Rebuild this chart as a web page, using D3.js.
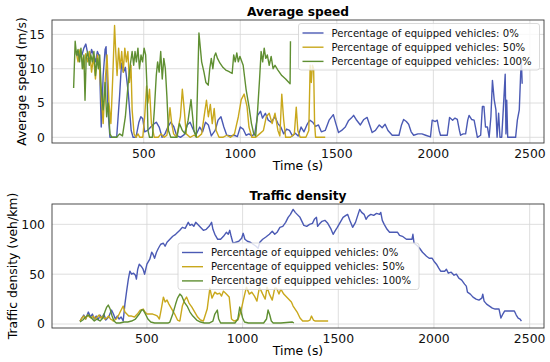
<!DOCTYPE html>
<html>
<head>
<meta charset="utf-8">
<script src="https://cdn.jsdelivr.net/npm/d3@7/dist/d3.min.js"></script>
<style>
  body { margin: 0; background: #fff; }
  svg { display: block; font-family: "DejaVu Sans", sans-serif; }
  .grid line { stroke: #d6d6d6; stroke-width: 0.8; }
  .tick-label { font-size: 12.4px; fill: #111; }
  .series { fill: none; stroke-width: 1.4; stroke-linejoin: round; }
</style>
</head>
<body>
<div id="chart"></div>
<script>
/* Two stacked panels: average speed and traffic density over time */

const seriesNames = [
  'Percentage of equipped vehicles: 0%',
  'Percentage of equipped vehicles: 50%',
  'Percentage of equipped vehicles: 100%'
];
const seriesColors = ['#4b5ab4', '#c9a81c', '#5f8f32'];

const timeTicks = [500, 1000, 1500, 2000, 2500];
const speedTicks = [0, 5, 10, 15];
const densityTicks = [0, 50, 100];

// average speed (m/s), [time, value]
const speed0 = [[150,12.5],[160,11.8],[170,12.6],[180,12.0],[190,13.0],[200,13.6],[210,12.2],[220,11.5],[230,12.8],[240,12.0],[250,11.0],[260,12.5],[270,11.8],[280,1.5],[290,9.0],[300,12.8],[305,13.2],[315,4.0],[325,0],[345,0],[360,0],[375,6.0],[385,10.8],[395,9.5],[405,10.2],[420,6.5],[435,1.0],[445,0],[460,0],[475,2.2],[485,3.0],[495,2.7],[505,0.8],[520,1.0],[540,1.6],[555,2.0],[565,2.2],[580,1.5],[595,0],[610,0.5],[625,1.5],[640,2.2],[655,1.6],[670,0.3],[690,0],[710,0.4],[725,1.8],[740,2.2],[755,1.2],[770,0.3],[790,1.5],[805,0.8],[820,2.2],[835,1.8],[850,0.2],[870,1.0],[885,2.5],[900,3.0],[915,1.5],[930,0.3],[950,0.2],[970,0.3],[985,0.1],[1000,1.5],[1015,1.2],[1030,0.3],[1045,0.5],[1060,0.2],[1075,0.5],[1090,3.2],[1105,3.8],[1115,2.8],[1130,3.5],[1145,2.5],[1160,2.2],[1180,3.0],[1195,2.0],[1210,1.5],[1225,0.5],[1240,1.2],[1255,1.0],[1270,0.2],[1285,0.6],[1300,0.2],[1315,1.5],[1330,0.8],[1345,1.8],[1360,2.5],[1375,2.2],[1390,1.6],[1405,1.8],[1420,0.8],[1440,1.0],[1460,2.5],[1482,3.3],[1495,2.0],[1509,0.7],[1525,1.0],[1544,1.5],[1560,2.4],[1575,2.8],[1587,3.2],[1600,2.6],[1622,1.8],[1640,2.6],[1657,2.9],[1670,1.8],[1683,0.7],[1700,1.0],[1720,1.8],[1735,1.4],[1750,1.9],[1765,1.0],[1787,0.3],[1805,0.3],[1822,0.3],[1835,1.8],[1846,2.6],[1860,2.3],[1872,1.9],[1885,0.8],[1898,0.3],[1920,0.5],[1941,0.5],[1960,0.3],[1985,0.05],[1994,2.5],[2010,2.3],[2020,2.5],[2030,1.0],[2037,0.3],[2055,0.3],[2072,0.3],[2084,2.9],[2100,2.5],[2112,2.8],[2124,2.6],[2135,1.0],[2141,0.3],[2155,0.5],[2167,0.5],[2178,2.5],[2185,3.2],[2198,2.6],[2211,2.5],[2220,1.2],[2228,0],[2245,0.3],[2254,4.5],[2262,4.5],[2270,1.5],[2280,1.5],[2289,0],[2298,3.0],[2306,8.3],[2315,5.5],[2324,4.0],[2330,0],[2338,3.5],[2345,0],[2354,0],[2362,4.0],[2372,9.2],[2376,0.5],[2380,5.4],[2385,0],[2400,0],[2426,0],[2435,2.5],[2445,4.0],[2452,9.2],[2456,11.0],[2460,7.8]];
const speed50 = [[150,12.4],[160,11.0],[170,12.8],[180,11.5],[190,10.0],[200,12.2],[210,11.0],[220,12.5],[230,9.5],[240,11.8],[250,8.5],[260,12.0],[270,10.5],[280,6.0],[290,2.0],[300,8.0],[310,12.0],[320,5.0],[330,2.0],[340,9.0],[349,16.3],[355,12.5],[362,9.0],[370,13.0],[378,10.0],[386,12.5],[394,9.5],[402,13.0],[410,11.0],[418,12.5],[426,8.0],[434,10.5],[440,4.0],[450,0.5],[460,0],[470,0.5],[480,0],[495,0],[505,3.0],[515,7.5],[522,5.0],[530,7.0],[540,2.0],[555,0],[575,0],[590,0.5],[605,0],[620,0.3],[630,2.5],[636,4.3],[645,2.0],[655,0.5],[670,0],[690,3.0],[700,7.0],[710,4.0],[720,0.5],[740,0],[760,0.3],[780,0],[800,0.5],[815,3.5],[825,5.4],[835,3.0],[845,4.8],[855,2.0],[865,4.2],[875,1.0],[890,0],[910,0],[930,0.3],[950,0],[970,0.5],[990,3.0],[1005,5.5],[1020,6.3],[1035,4.5],[1045,1.5],[1060,0],[1080,0],[1100,0.5],[1120,1.0],[1135,3.0],[1150,3.5],[1165,2.0],[1180,3.5],[1195,1.0],[1205,0.2],[1215,6.3],[1225,2.5],[1235,0],[1260,0],[1280,0.5],[1290,4.4],[1298,1.0],[1310,0],[1340,0],[1355,1.0],[1362,10.5],[1368,8.0],[1374,10.5],[1380,10.0],[1385,2.0],[1390,0],[1410,0],[1440,0]];
const speed100 = [[137,7.2],[145,14.0],[152,12.0],[160,12.8],[168,11.0],[175,13.0],[182,10.0],[190,12.0],[196,5.4],[202,11.5],[210,12.5],[218,10.5],[226,12.0],[234,11.0],[242,12.5],[250,9.0],[258,11.5],[265,10.0],[272,12.0],[280,7.0],[290,4.0],[300,8.0],[308,3.0],[316,5.0],[325,0.5],[335,0],[345,0],[360,0],[375,0.5],[390,0.2],[405,3.0],[420,8.0],[430,10.5],[440,12.5],[448,10.5],[455,12.5],[462,11.0],[470,13.0],[478,10.0],[486,12.0],[494,11.0],[502,13.0],[510,12.0],[516,8.0],[522,1.0],[530,0],[545,0],[555,4.0],[565,9.0],[572,11.0],[580,9.5],[588,12.5],[596,8.5],[604,11.5],[612,10.0],[620,6.0],[628,1.0],[640,0],[660,0],[672,0],[685,2.0],[700,1.0],[715,0.5],[730,2.5],[745,5.5],[760,1.0],[772,0],[786,15.2],[800,11.0],[812,9.5],[822,8.0],[834,7.6],[842,10.0],[850,11.5],[858,10.0],[866,11.8],[873,12.3],[882,11.5],[895,10.8],[910,10.2],[925,9.8],[940,9.6],[958,9.3],[966,12.0],[974,11.0],[982,12.3],[990,11.0],[998,11.8],[1006,11.2],[1015,10.5],[1030,7.0],[1045,4.5],[1058,2.0],[1070,0.5],[1080,0.2],[1090,4.0],[1100,8.5],[1108,12.5],[1116,11.0],[1124,13.0],[1132,11.5],[1140,12.0],[1150,10.5],[1160,11.8],[1170,10.0],[1180,10.5],[1195,9.8],[1215,9.0],[1235,8.5],[1258,7.8],[1260,14.0]];

// traffic density (veh/km), [time, value]
const density0 = [[150,3],[160,6],[170,9],[180,5],[194,12],[205,7],[215,10],[225,5],[235,8],[245,4],[255,9],[265,6],[275,10],[285,4],[300,7],[315,14],[325,10],[335,5],[345,8],[355,5],[365,7],[376,3],[385,20],[394,33],[403,45],[411,53],[420,50],[430,51],[440,49],[445,45],[452,55],[460,60],[470,58],[480,55],[488,50],[500,60],[515,65],[525,72],[532,70],[540,66],[550,72],[560,76],[572,80],[586,81],[595,78],[605,82],[620,85],[635,88],[650,90],[672,94],[685,97],[700,96],[716,102],[725,99],[735,100],[745,98],[755,102],[765,100],[780,97],[795,94],[810,95],[825,98],[838,102],[845,95],[855,90],[870,85],[885,85],[900,88],[915,92],[925,90],[933,94],[940,88],[950,81],[965,82],[980,83],[995,86],[1003,91],[1012,85],[1025,83],[1040,82],[1055,80],[1070,78],[1081,76],[1090,82],[1105,85],[1120,87],[1140,90],[1155,93],[1168,90],[1180,92],[1195,97],[1210,98],[1225,102],[1238,107],[1250,110],[1264,115],[1275,112],[1285,110],[1300,107],[1310,103],[1320,99],[1335,98],[1350,100],[1365,101],[1375,105],[1386,107],[1392,98],[1400,100],[1415,103],[1430,104],[1445,101],[1460,96],[1473,90],[1485,94],[1495,97],[1510,102],[1525,107],[1540,109],[1549,110],[1560,104],[1575,97],[1590,102],[1600,108],[1612,115],[1622,112],[1635,110],[1645,105],[1655,108],[1670,110],[1685,109],[1700,111],[1716,110],[1722,112],[1730,104],[1740,100],[1755,95],[1768,92],[1790,92],[1810,92],[1820,89],[1835,88],[1856,85],[1870,85],[1885,85],[1890,90],[1896,81],[1910,79],[1925,76],[1940,72],[1961,68],[1975,66],[1990,66],[2000,63],[2013,60],[2025,56],[2035,53],[2056,53],[2065,55],[2075,51],[2090,52],[2105,49],[2117,50],[2130,46],[2145,44],[2160,40],[2169,38],[2175,32],[2190,30],[2204,27],[2220,25],[2235,24],[2250,26],[2255,30],[2262,23],[2275,20],[2290,18],[2305,16],[2320,15],[2340,15],[2350,6],[2360,10],[2369,13],[2385,13],[2400,13],[2420,13],[2430,9],[2440,6],[2450,5],[2457,3]];
const density50 = [[150,3],[160,6],[170,8],[180,5],[190,9],[200,7],[210,6],[220,8],[230,5],[240,7],[250,9],[260,6],[270,8],[280,5],[290,6],[300,8],[310,5],[320,4],[324,3],[340,5],[355,10],[368,15],[376,18],[385,12],[395,10],[405,8],[420,8],[435,7],[450,10],[465,14],[481,15],[490,12],[500,10],[515,10],[530,10],[545,9],[555,8],[565,5],[575,15],[586,27],[595,22],[605,24],[615,20],[630,15],[645,10],[660,4],[672,3],[685,18],[697,24],[707,27],[720,21],[735,17],[750,12],[765,7],[780,4],[795,3],[815,15],[829,36],[840,26],[855,32],[868,30],[880,31],[890,28],[900,33],[915,30],[930,27],[942,5],[955,3],[975,4],[990,12],[1005,25],[1020,37],[1035,30],[1048,32],[1062,28],[1075,23],[1088,37],[1105,30],[1118,25],[1128,37],[1140,30],[1155,24],[1168,36],[1178,36],[1190,30],[1200,35],[1215,30],[1240,25],[1255,22],[1264,18],[1285,12],[1300,6],[1314,3],[1340,3],[1352,4],[1360,8],[1370,4],[1380,3],[1447,3]];
const density100 = [[150,2],[165,4],[180,7],[195,9],[210,6],[225,3],[240,5],[255,3],[270,6],[280,12],[290,17],[298,19],[308,15],[318,8],[328,3],[340,1],[359,1],[380,2],[400,2],[420,3],[440,5],[460,10],[472,14],[481,14],[492,10],[505,5],[520,2],[540,1],[560,1],[590,1],[610,1],[620,2],[635,10],[650,20],[660,26],[672,30],[682,28],[695,22],[710,18],[725,12],[740,8],[760,4],[780,2],[800,1],[825,1],[845,3],[855,10],[868,14],[875,5],[885,1],[920,1],[960,1],[975,5],[985,17],[992,12],[1000,6],[1010,2],[1030,1],[1080,1],[1110,1],[1125,5],[1133,14],[1142,9],[1150,3],[1160,1],[1200,1],[1260,2],[1268,1]];

const width = 550, height = 362;

const svg = d3.select('#chart').append('svg')
  .attr('width', width).attr('height', height);

function renderPanel(cfg) {
  const x = d3.scaleLinear().domain(cfg.xDomain).range([cfg.left, cfg.right]);
  const y = d3.scaleLinear().domain(cfg.yDomain).range([cfg.bottom, cfg.top]);

  const g = svg.append('g');

  // grid
  const grid = g.append('g').attr('class', 'grid');
  grid.selectAll('.gx').data(timeTicks).enter().append('line')
    .attr('x1', d => x(d)).attr('x2', d => x(d))
    .attr('y1', cfg.top).attr('y2', cfg.bottom);
  grid.selectAll('.gy').data(cfg.yTicks).enter().append('line')
    .attr('x1', cfg.left).attr('x2', cfg.right)
    .attr('y1', d => y(d)).attr('y2', d => y(d));

  // lines
  const clipId = 'clip-' + cfg.id;
  svg.append('clipPath').attr('id', clipId).append('rect')
    .attr('x', cfg.left).attr('y', cfg.top)
    .attr('width', cfg.right - cfg.left).attr('height', cfg.bottom - cfg.top);

  const line = d3.line().x(d => x(d[0])).y(d => y(d[1]));
  g.append('g').attr('clip-path', `url(#${clipId})`)
    .selectAll('path').data(cfg.series).enter().append('path')
    .attr('class', 'series')
    .attr('stroke', (d, i) => seriesColors[i])
    .attr('d', line);

  // frame
  g.append('rect')
    .attr('x', cfg.left).attr('y', cfg.top)
    .attr('width', cfg.right - cfg.left).attr('height', cfg.bottom - cfg.top)
    .attr('fill', 'none').attr('stroke', '#3a3a3a').attr('stroke-width', 0.9);

  // tick labels
  g.selectAll('.xt').data(timeTicks).enter().append('text')
    .attr('class', 'tick-label')
    .attr('x', d => x(d)).attr('y', cfg.bottom + 15)
    .attr('text-anchor', 'middle')
    .text(d => d);
  g.selectAll('.yt').data(cfg.yTicks).enter().append('text')
    .attr('class', 'tick-label')
    .attr('x', cfg.left - 7).attr('y', d => y(d))
    .attr('dy', '0.36em')
    .attr('text-anchor', 'end')
    .text(d => d);

  // titles
  g.append('text')
    .attr('x', (cfg.left + cfg.right) / 2).attr('y', cfg.top - 4)
    .attr('text-anchor', 'middle')
    .style('font-size', '12.2px').style('font-weight', 'bold')
    .text(cfg.title);
  g.append('text')
    .attr('x', (cfg.left + cfg.right) / 2).attr('y', cfg.bottom + 27)
    .attr('text-anchor', 'middle')
    .style('font-size', '12.4px')
    .text('Time (s)');
  g.append('text')
    .attr('transform', `translate(${cfg.yLabelX},${(cfg.top + cfg.bottom) / 2}) rotate(-90)`)
    .attr('text-anchor', 'middle')
    .attr('dy', '0.35em')
    .style('font-size', '12.4px')
    .text(cfg.yLabel);

  // legend
  const lg = g.append('g').attr('transform', `translate(${cfg.legendX},${cfg.legendY})`);
  lg.append('rect')
    .attr('width', 241).attr('height', 46.5).attr('rx', 2.5)
    .attr('fill', '#fff').attr('fill-opacity', 0.8)
    .attr('stroke', '#d0d0d0').attr('stroke-width', 0.8);
  const rows = lg.selectAll('.row').data(seriesNames).enter().append('g')
    .attr('transform', (d, i) => `translate(0,${9.5 + i * 14.2})`);
  rows.append('line')
    .attr('x1', 4).attr('x2', 25)
    .attr('stroke', (d, i) => seriesColors[i]).attr('stroke-width', 1.4);
  rows.append('text')
    .attr('x', 33).attr('dy', '0.35em')
    .style('font-size', '10.1px').style('fill', '#111')
    .text(d => d);
}

renderPanel({
  id: 'speed', title: 'Average speed', yLabel: 'Average speed (m/s)',
  left: 52, right: 544, top: 20, bottom: 143,
  xDomain: [25, 2573], yDomain: [-0.83, 17.1],
  yTicks: speedTicks, yLabelX: 22,
  series: [speed0, speed50, speed100],
  legendX: 298.5, legendY: 23.5
});

renderPanel({
  id: 'density', title: 'Traffic density', yLabel: 'Traffic density (veh/km)',
  left: 52, right: 544, top: 204, bottom: 328,
  xDomain: [4, 2575], yDomain: [-4, 120.4],
  yTicks: densityTicks, yLabelX: 12.5,
  series: [density0, density50, density100],
  legendX: 178, legendY: 243
});
</script>
</body>
</html>
